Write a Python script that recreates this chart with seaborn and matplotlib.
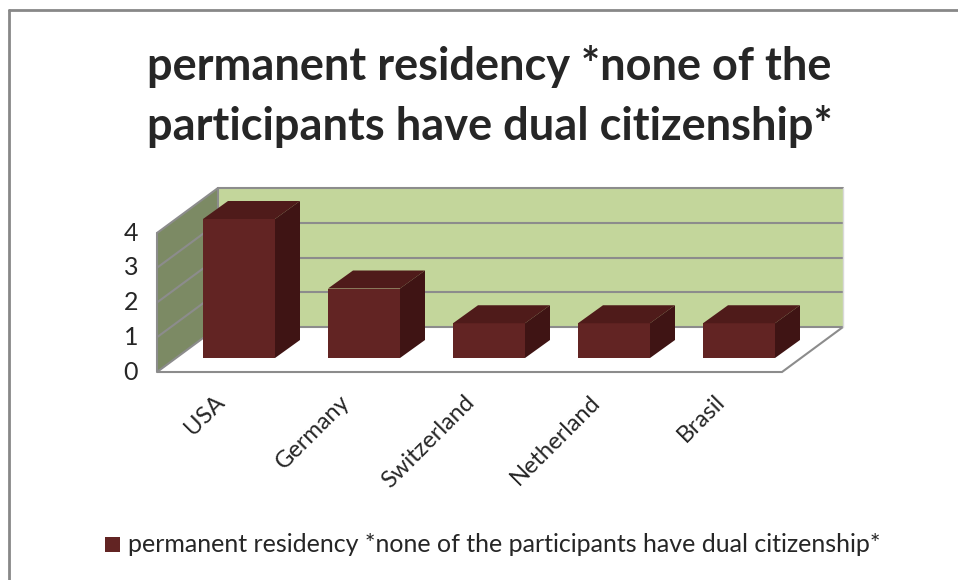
import pandas as pd
import matplotlib.pyplot as plt
from matplotlib.patches import Polygon, Rectangle
import seaborn as sns

# chart data
countries = ["USA", "Germany", "Switzerland", "Netherland", "Brasil"]
counts = [4, 2, 1, 1, 1]
series_name = "permanent residency *none of the participants have dual citizenship*"
y_ticks = [0, 1, 2, 3, 4]

df = pd.DataFrame({"Country": countries, "Count": counts})

sns.set_style("white")
plt.rcParams["font.family"] = ["Lato", "DejaVu Sans"]

W, H = 958, 580
fig = plt.figure(figsize=(W / 100, H / 100), dpi=100)
ax = fig.add_axes([0, 0, 1, 1])

# pixel scale: 125 px per category, 34.75 px per unit
px_cat, px_val = 125.0, 34.75
x0_px, y0_px = 239.0, 358.0
xlim = (-x0_px / px_cat, (W - x0_px) / px_cat)
ylim = (-(H - y0_px) / px_val, y0_px / px_val)

# 3d geometry (data units)
wall_dx, wall_dy = 0.488, 1.295
front_y = -0.403
left_x = -0.656
right_x = 4.344
back_y = front_y + wall_dy
ymax = max(y_ticks)
grid_c = "#8c8c8c"

# back wall
ax.add_patch(Polygon([(left_x + wall_dx, back_y), (right_x + wall_dx, back_y),
                      (right_x + wall_dx, back_y + ymax), (left_x + wall_dx, back_y + ymax)],
                     closed=True, facecolor="#c3d69b", edgecolor="none", zorder=0))
# side wall
ax.add_patch(Polygon([(left_x, front_y), (left_x, front_y + ymax),
                      (left_x + wall_dx, back_y + ymax), (left_x + wall_dx, back_y)],
                     closed=True, facecolor="#7c8a64", edgecolor="none", zorder=0))
# floor
ax.add_patch(Polygon([(left_x, front_y), (right_x, front_y),
                      (right_x + wall_dx, back_y), (left_x + wall_dx, back_y)],
                     closed=True, facecolor="white", edgecolor=grid_c, lw=1.5, zorder=0.5))
for k in y_ticks[1:]:
    ax.plot([left_x, left_x + wall_dx], [front_y + k, back_y + k], color=grid_c, lw=1.5, zorder=0.6)
    ax.plot([left_x + wall_dx, right_x + wall_dx], [back_y + k, back_y + k], color=grid_c, lw=1.5, zorder=0.6)
ax.plot([left_x, left_x], [front_y, front_y + ymax], color=grid_c, lw=1.5, zorder=0.6)
ax.plot([left_x + wall_dx, left_x + wall_dx], [back_y, back_y + ymax], color=grid_c, lw=1.5, zorder=0.6)
ax.plot([right_x + wall_dx, right_x + wall_dx], [back_y, back_y + ymax], color="#d9d9d9", lw=1, zorder=0.6)

# bars (front faces)
sns.barplot(data=df, x="Country", y="Count", color="#622423", saturation=1,
            width=0.576, linewidth=0, ax=ax, zorder=2)
ax.set_xlim(*xlim)
ax.set_ylim(*ylim)
ax.axis("off")

bar_dx, bar_dy = 0.2, 0.518
for p in list(ax.patches):
    if not isinstance(p, Rectangle):
        continue
    x, y, w, h = p.get_x(), p.get_y(), p.get_width(), p.get_height()
    if h <= 0:
        continue
    ax.add_patch(Polygon([(x, y + h), (x + w, y + h), (x + w + bar_dx, y + h + bar_dy),
                          (x + bar_dx, y + h + bar_dy)], closed=True,
                         facecolor="#4f1b1a", edgecolor="none", zorder=2))
    ax.add_patch(Polygon([(x + w, y), (x + w, y + h), (x + w + bar_dx, y + h + bar_dy),
                          (x + w + bar_dx, y + bar_dy)], closed=True,
                         facecolor="#3f1414", edgecolor="none", zorder=2))

# value axis labels
for k in y_ticks:
    ax.text(left_x - 0.15, front_y + k, str(k), ha="right", va="center", fontsize=18)

# category labels
for i, c in enumerate(countries):
    ax.text(i - 0.2, front_y - 0.55, c, rotation=45, ha="right", va="top",
            rotation_mode="anchor", fontsize=17)

# title
fig.text(0.511, 1 - 66 / H, "permanent residency *none of the", ha="center", va="center",
         fontsize=32.5, fontweight="bold")
fig.text(0.511, 1 - 126 / H, "participants have dual citizenship*", ha="center", va="center",
         fontsize=32.5, fontweight="bold")

# legend
fig.patches.append(Rectangle((105 / W, 1 - 552 / H), 15 / W, 15 / H, transform=fig.transFigure,
                             facecolor="#622423", edgecolor="none"))
fig.text(128 / W, 1 - 545 / H, series_name, ha="left", va="center", fontsize=18)

# chart border
fig.add_artist(plt.Line2D([8.5 / W, 8.5 / W], [0, 1 - 10 / H], transform=fig.transFigure,
                          color="#888888", lw=2))
fig.add_artist(plt.Line2D([8.5 / W, 1], [1 - 10 / H, 1 - 10 / H], transform=fig.transFigure,
                          color="#888888", lw=2))

fig.savefig("out.png", dpi=100)
